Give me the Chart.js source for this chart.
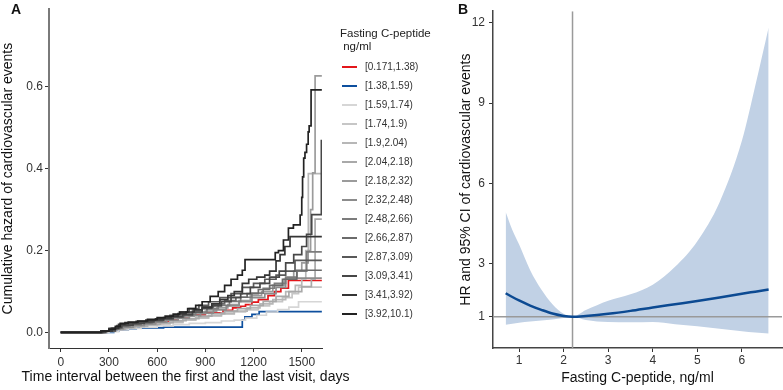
<!DOCTYPE html>
<html>
<head>
<meta charset="utf-8">
<script src="https://cdn.jsdelivr.net/npm/chart.js@4.4.1/dist/chart.umd.min.js"></script>
<style>
  body { margin: 0; background: #fff; font-family: "Liberation Sans", Arial, sans-serif; }
  #page { position: relative; width: 783px; height: 390px; overflow: hidden; }
  #boxA { position: absolute; left: 0; top: 0; width: 430px; height: 390px; }
  #boxB { position: absolute; left: 430px; top: 0; width: 353px; height: 390px; }
  .tag { position: absolute; top: 1px; font-weight: bold; font-size: 14px; color: #111; }
  #legenda { position: absolute; left: 340px; top: 27px; color: #222; }
  #legenda .titulo { font-size: 11.5px; line-height: 13px; margin-bottom: 4px; white-space: pre; }
  #legenda .item { height: 19px; display: flex; align-items: center; font-size: 10px; color: #333; }
  #legenda .traco { width: 15px; height: 2px; margin: 0 8px 0 2px; }
</style>
</head>
<body>
<div id="page">
  <div id="boxA"><canvas id="graficoA" width="430" height="390"></canvas></div>
  <div id="boxB"><canvas id="graficoB" width="353" height="390"></canvas></div>
  <div class="tag" style="left:11px">A</div>
  <div class="tag" style="left:458px">B</div>
  <div id="legenda"></div>
</div>
<script>
// Painel A - grupos de peptídeo C em jejum
const grupos = ['[0.171,1.38)', '[1.38,1.59)', '[1.59,1.74)', '[1.74,1.9)', '[1.9,2.04)', '[2.04,2.18)',
  '[2.18,2.32)', '[2.32,2.48)', '[2.48,2.66)', '[2.66,2.87)', '[2.87,3.09)', '[3.09,3.41)', '[3.41,3.92)', '[3.92,10.1)'];
const coresGrupos = ['#e3161b', '#0d4f9e', '#d6d6d6', '#c6c6c6', '#b7b7b7', '#a9a9a9', '#9b9b9b', '#8c8c8c',
  '#7c7c7c', '#6b6b6b', '#595959', '#474747', '#353535', '#222222'];

// [dias, risco acumulado]
const haz01 = [[0,0],[270,0.003],[330,0.007],[390,0.012],[450,0.015],[520,0.019],[580,0.022],[640,0.026],[690,0.031],[730,0.038],[800,0.043],[900,0.048],[1010,0.054],[1070,0.06],[1120,0.064],[1150,0.068],[1190,0.074],[1230,0.08],[1290,0.09],[1330,0.1],[1370,0.108],[1417,0.127],[1625,0.127]];
const haz02 = [[0,0],[330,0.003],[360,0.006],[420,0.009],[470,0.011],[640,0.013],[1130,0.03],[1146,0.038],[1190,0.044],[1235,0.051],[1625,0.051]];
const haz03 = [[0,0],[300,0.002],[360,0.006],[420,0.01],[500,0.013],[600,0.016],[700,0.019],[800,0.022],[900,0.024],[1000,0.028],[1080,0.03],[1150,0.035],[1220,0.042],[1280,0.05],[1350,0.056],[1420,0.062],[1480,0.075],[1625,0.075]];
const haz04 = [[0,0],[290,0.003],[340,0.008],[400,0.012],[470,0.015],[540,0.018],[610,0.021],[680,0.024],[760,0.03],[840,0.035],[920,0.04],[1000,0.045],[1080,0.05],[1150,0.055],[1230,0.065],[1300,0.075],[1380,0.085],[1440,0.095],[1480,0.111],[1625,0.111]];
const haz05 = [[0,0],[280,0.003],[330,0.007],[380,0.011],[440,0.014],[520,0.018],[600,0.022],[680,0.026],[760,0.031],[840,0.036],[920,0.042],[1000,0.047],[1080,0.052],[1160,0.06],[1240,0.07],[1320,0.08],[1400,0.1],[1460,0.115],[1500,0.13],[1525,0.2],[1541,0.388],[1625,0.388]];
const haz06 = [[0,0],[290,0.003],[340,0.008],[400,0.012],[460,0.016],[540,0.02],[620,0.024],[700,0.029],[780,0.034],[860,0.04],[940,0.046],[1020,0.052],[1100,0.058],[1180,0.066],[1260,0.076],[1340,0.088],[1420,0.1],[1500,0.112],[1560,0.13],[1583,0.277],[1625,0.277]];
const haz07 = [[0,0],[260,0.003],[320,0.008],[370,0.013],[430,0.017],[500,0.021],[570,0.025],[640,0.03],[700,0.035],[760,0.04],[830,0.046],[900,0.052],[970,0.06],[1040,0.068],[1110,0.078],[1180,0.09],[1250,0.1],[1320,0.115],[1390,0.13],[1450,0.15],[1500,0.17],[1540,0.2],[1555,0.3],[1568,0.39],[1583,0.627],[1625,0.627]];
const haz08 = [[0,0],[280,0.004],[330,0.009],[390,0.013],[450,0.017],[520,0.021],[590,0.025],[660,0.03],[730,0.035],[800,0.041],[870,0.047],[950,0.055],[1030,0.065],[1110,0.075],[1190,0.085],[1270,0.095],[1340,0.11],[1400,0.133],[1625,0.133]];
const haz09 = [[0,0],[270,0.004],[320,0.01],[370,0.015],[430,0.019],[500,0.023],[570,0.027],[640,0.032],[700,0.038],[770,0.044],[840,0.05],[910,0.058],[980,0.066],[1050,0.076],[1120,0.086],[1190,0.096],[1260,0.108],[1330,0.12],[1400,0.135],[1470,0.15],[1531,0.197],[1625,0.197]];
const haz10 = [[0,0],[260,0.004],[310,0.01],[360,0.016],[420,0.02],[490,0.024],[560,0.028],[630,0.033],[690,0.04],[750,0.047],[820,0.055],[880,0.062],[950,0.07],[1020,0.078],[1090,0.086],[1160,0.095],[1230,0.105],[1300,0.115],[1380,0.13],[1469,0.152],[1625,0.152]];
const haz11 = [[0,0],[250,0.004],[300,0.01],[350,0.017],[410,0.022],[480,0.026],[550,0.03],[620,0.035],[680,0.042],[740,0.05],[800,0.058],[860,0.066],[920,0.075],[990,0.085],[1060,0.095],[1130,0.11],[1200,0.12],[1270,0.13],[1340,0.14],[1400,0.15],[1458,0.176],[1625,0.176]];
const haz12 = [[0,0],[280,0.004],[340,0.012],[380,0.018],[450,0.022],[520,0.026],[580,0.03],[640,0.034],[700,0.038],[760,0.043],[820,0.05],[880,0.058],[940,0.065],[1000,0.075],[1060,0.085],[1120,0.095],[1180,0.11],[1240,0.12],[1300,0.135],[1360,0.15],[1400,0.17],[1450,0.19],[1500,0.21],[1530,0.24],[1562,0.288],[1622,0.471]];
const haz13 = [[0,0],[260,0.004],[320,0.01],[360,0.02],[400,0.024],[470,0.027],[530,0.03],[590,0.033],[640,0.036],[690,0.04],[730,0.046],[780,0.05],[830,0.055],[880,0.062],[940,0.07],[990,0.08],[1040,0.09],[1080,0.1],[1130,0.12],[1170,0.13],[1220,0.135],[1270,0.14],[1300,0.15],[1340,0.175],[1365,0.19],[1395,0.21],[1427,0.234],[1625,0.234]];
const haz14 = [[0,0],[250,0.003],[300,0.008],[340,0.015],[370,0.022],[420,0.025],[480,0.028],[540,0.032],[600,0.036],[650,0.04],[700,0.045],[740,0.05],[790,0.058],[840,0.066],[880,0.075],[930,0.088],[980,0.1],[1020,0.115],[1060,0.13],[1100,0.14],[1130,0.152],[1147,0.178],[1335,0.195],[1355,0.2],[1386,0.226],[1417,0.255],[1448,0.263],[1490,0.287],[1500,0.33],[1505,0.38],[1512,0.426],[1520,0.44],[1530,0.46],[1540,0.49],[1546,0.505],[1558,0.593],[1625,0.593]];
const curvas = [haz01, haz02, haz03, haz04, haz05, haz06, haz07, haz08, haz09, haz10, haz11, haz12, haz13, haz14];

const ticksDias = [0, 300, 600, 900, 1200, 1500];
const ticksRisco = [0, 0.2, 0.4, 0.6];
const tituloXA = 'Time interval between the first and the last visit, days';

// Painel B - spline do HR
const peptideo = [0.7, 0.85, 1.0, 1.25, 1.5, 1.75, 2.0, 2.2, 2.5, 3.0, 3.5, 4.0, 4.5, 5.0, 5.5, 6.0, 6.3, 6.6];
const hr       = [1.88, 1.74, 1.61, 1.42, 1.26, 1.12, 1.03, 1.0, 1.03, 1.11, 1.22, 1.35, 1.47, 1.59, 1.72, 1.86, 1.94, 2.02];
const icSup    = [4.92, 4.25, 3.71, 2.74, 2.02, 1.47, 1.11, 1.0, 1.25, 1.6, 1.84, 2.2, 2.87, 3.83, 5.29, 7.59, 9.65, 11.83];
const icInf    = [0.7, 0.74, 0.78, 0.82, 0.86, 0.9, 0.95, 1.0, 0.88, 0.8, 0.79, 0.8, 0.72, 0.64, 0.55, 0.46, 0.41, 0.37];
const referenciaX = 2.2;
const referenciaY = 1;
const ticksPeptideo = [1, 2, 3, 4, 5, 6];
const ticksHR = [1, 3, 6, 9, 12];

const FONTE = "'Liberation Sans', Arial, sans-serif";
Chart.defaults.font.family = FONTE;
Chart.defaults.color = '#333';

// Legenda em HTML
const legenda = document.getElementById('legenda');
legenda.innerHTML = '<div class="titulo">Fasting C-peptide\n ng/ml</div>' +
  grupos.map((g, i) => `<div class="item"><span class="traco" style="background:${coresGrupos[i]}"></span>${g}</div>`).join('');

// Eixo linear com ticks fixos (estilo ggplot: só traço de tick, sem grade)
function eixo(min, max, ticks, formato, tamTick, padTick, titulo, tamTitulo, padTitulo, borda, tamanho, horizontal) {
  return {
    type: 'linear', min: min, max: max,
    afterBuildTicks: s => { s.ticks = ticks.map(v => ({ value: v })); },
    afterFit: s => { if (horizontal) s.height = tamanho; else s.width = tamanho; },
    border: borda,
    grid: { drawOnChartArea: false, tickLength: 4, color: '#333' },
    ticks: { font: { size: tamTick }, color: '#333', padding: padTick, maxRotation: 0, callback: formato },
    title: { display: !!titulo, text: titulo, font: { size: tamTitulo }, color: '#111', padding: padTitulo }
  };
}

// título do eixo x do painel A é mais largo que a área do gráfico, então desenha sem compressão
const tituloLargo = {
  id: 'tituloLargo',
  afterDraw(chart) {
    const { ctx, chartArea } = chart;
    ctx.save();
    ctx.font = '14px ' + FONTE;
    ctx.fillStyle = '#111';
    ctx.textAlign = 'center';
    ctx.textBaseline = 'middle';
    ctx.fillText(tituloXA, (chartArea.left + chartArea.right) / 2, 377);
    ctx.restore();
  }
};

new Chart(document.getElementById('graficoA'), {
  type: 'line',
  data: {
    datasets: curvas.map((c, i) => ({
      label: grupos[i],
      data: c.map(p => ({ x: p[0], y: p[1] })),
      borderColor: coresGrupos[i],
      borderWidth: 1.7,
      pointRadius: 0,
      stepped: true,
      fill: false,
      order: curvas.length - i
    }))
  },
  options: {
    responsive: false, animation: false,
    layout: { padding: { left: 0, right: 108, top: 0, bottom: 0 } },
    plugins: { legend: { display: false }, tooltip: { enabled: false } },
    scales: {
      x: eixo(-73, 1626, ticksDias, v => String(v), 12, 3, '', 14, 0,
        { color: '#333', width: 1 }, 42, true),
      y: eixo(-0.038, 0.79, ticksRisco, v => v.toFixed(1), 12, 2,
        'Cumulative hazard of cardiovascular events', 14, { top: 0, bottom: 0 },
        { color: '#7a7a7a', width: 2 }, 49, false)
    }
  },
  plugins: [tituloLargo]
});

new Chart(document.getElementById('graficoB'), {
  type: 'line',
  data: {
    datasets: [
      { data: peptideo.map((x, i) => ({ x: x, y: hr[i] })), borderColor: '#0c4a92', borderWidth: 2.5,
        pointRadius: 0, cubicInterpolationMode: 'monotone', fill: false },
      { data: [{ x: referenciaX, y: -0.17 }, { x: referenciaX, y: 12.44 }], borderColor: '#9a9a9a', borderWidth: 1.5, pointRadius: 0 },
      { data: [{ x: 0.416, y: referenciaY }, { x: 6.9, y: referenciaY }], borderColor: '#9a9a9a', borderWidth: 1.5, pointRadius: 0 },
      { data: peptideo.map((x, i) => ({ x: x, y: icSup[i] })), borderWidth: 0, borderColor: 'rgba(0,0,0,0)',
        backgroundColor: '#c1d1e5', pointRadius: 0, cubicInterpolationMode: 'monotone', fill: '+1' },
      { data: peptideo.map((x, i) => ({ x: x, y: icInf[i] })), borderWidth: 0, borderColor: 'rgba(0,0,0,0)',
        pointRadius: 0, cubicInterpolationMode: 'monotone', fill: false }
    ]
  },
  options: {
    responsive: false, animation: false,
    layout: { padding: { left: 0, right: 1, top: 0, bottom: 0 } },
    plugins: { legend: { display: false }, tooltip: { enabled: false } },
    scales: {
      x: eixo(0.416, 6.9, ticksPeptideo, v => String(v), 12, 1.5,
        'Fasting C-peptide, ng/ml', 14, { top: 0, bottom: 3.5 },
        { color: '#444', width: 1.5 }, 42, true),
      y: eixo(-0.17, 12.44, ticksHR, v => String(v), 12, 4,
        'HR and 95% CI of cardiovascular events', 14, { top: 28, bottom: 0 },
        { color: '#444', width: 1.5 }, 63, false)
    }
  }
});
</script>
</body>
</html>
